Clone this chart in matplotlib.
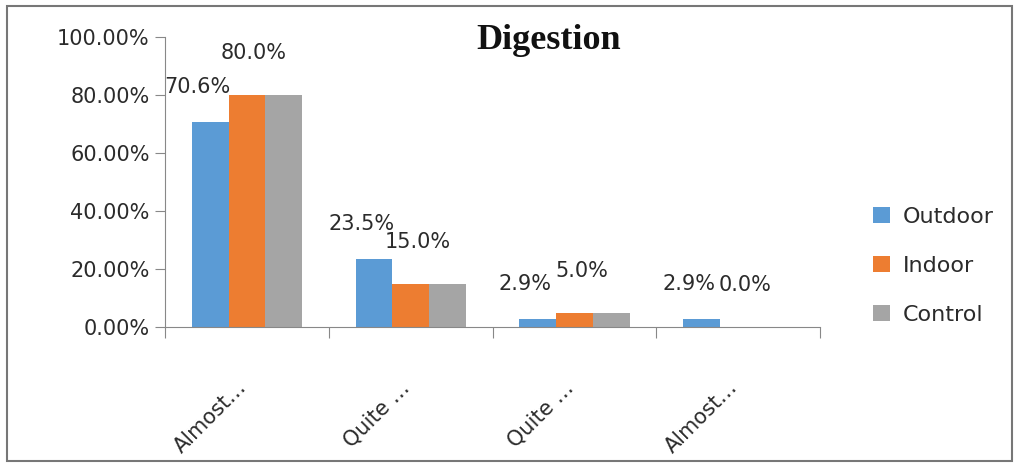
import matplotlib
matplotlib.use("Agg")
import matplotlib.pyplot as plt
from matplotlib.patches import Rectangle
from matplotlib.transforms import ScaledTranslation
import numpy as np

categories = ["Almost…", "Quite …", "Quite …", "Almost…"]
outdoor = [70.6, 23.5, 2.9, 2.9]
indoor = [80.0, 15.0, 5.0, 0.0]
control = [80.0, 15.0, 5.0, 0.0]
series_names = ["Outdoor", "Indoor", "Control"]
colors = ["#5B9BD5", "#ED7D31", "#A5A5A5"]

plt.rcParams['font.family'] = ['DejaVu Sans']
txt = "#2b2b2b"

fig = plt.figure(figsize=(10.19, 4.66), dpi=100)
ax = fig.add_axes([0.162, 0.298, 0.643, 0.623])

x = np.arange(len(categories))
w = 0.225
bars = []
for i, (vals, name, c) in enumerate(zip([outdoor, indoor, control], series_names, colors)):
    b = ax.bar(x + (i - 1) * w, vals, w, color=c, label=name)
    bars.append(b)

# value labels only on outdoor and indoor, offset like the spreadsheet export
for rect, v in zip(bars[0], outdoor):
    ax.annotate(f"{v:.1f}%", (rect.get_x() + rect.get_width() / 2, v),
                xytext=(-9, 25), textcoords="offset points",
                ha="center", va="center", fontsize=15, color=txt)
for rect, v in zip(bars[1], indoor):
    ax.annotate(f"{v:.1f}%", (rect.get_x() + rect.get_width() / 2, v),
                xytext=(5, 30), textcoords="offset points",
                ha="center", va="center", fontsize=15, color=txt)

ax.set_xlim(-0.5, len(categories) - 0.5)
ax.set_ylim(0, 100)
ax.set_yticks(np.arange(0, 101, 20))
ax.set_yticklabels([f"{t:.2f}%" for t in np.arange(0, 101, 20)], fontsize=15, color=txt)
ax.tick_params(axis="y", length=7, color="#888888", pad=4)

# category boundary ticks on x, labels at centres
ax.set_xticks(np.arange(-0.5, len(categories), 1.0))
ax.set_xticklabels([])
ax.tick_params(axis="x", length=8, color="#888888", direction="out")
ax.set_xticks(x, minor=True)
ax.set_xticklabels(categories, minor=True, rotation=45, ha="right", va="top",
                   rotation_mode="anchor", fontsize=15, color=txt)
ax.tick_params(axis="x", which="minor", length=0, pad=36)
shift = ScaledTranslation(-8 / 72, 0, fig.dpi_scale_trans)
for lbl in ax.get_xticklabels(minor=True):
    lbl.set_transform(lbl.get_transform() + shift)

for s in ["top", "right"]:
    ax.spines[s].set_visible(False)
for s in ["left", "bottom"]:
    ax.spines[s].set_color("#888888")

fig.text(0.538, 0.913, "Digestion", ha="center", va="center",
         fontsize=26, fontweight="bold", family="Liberation Serif", color="#111111")

fig.legend(loc="center left", bbox_to_anchor=(0.837, 0.43), frameon=False,
           fontsize=16, handlelength=0.75, handleheight=0.75, labelspacing=1.3,
           handletextpad=0.6, labelcolor=txt)

fig.patches.append(Rectangle((0.007, 0.01), 0.986, 0.978, transform=fig.transFigure,
                             fill=False, edgecolor="#777777", linewidth=1.5))

fig.savefig("out.png", dpi=100)
